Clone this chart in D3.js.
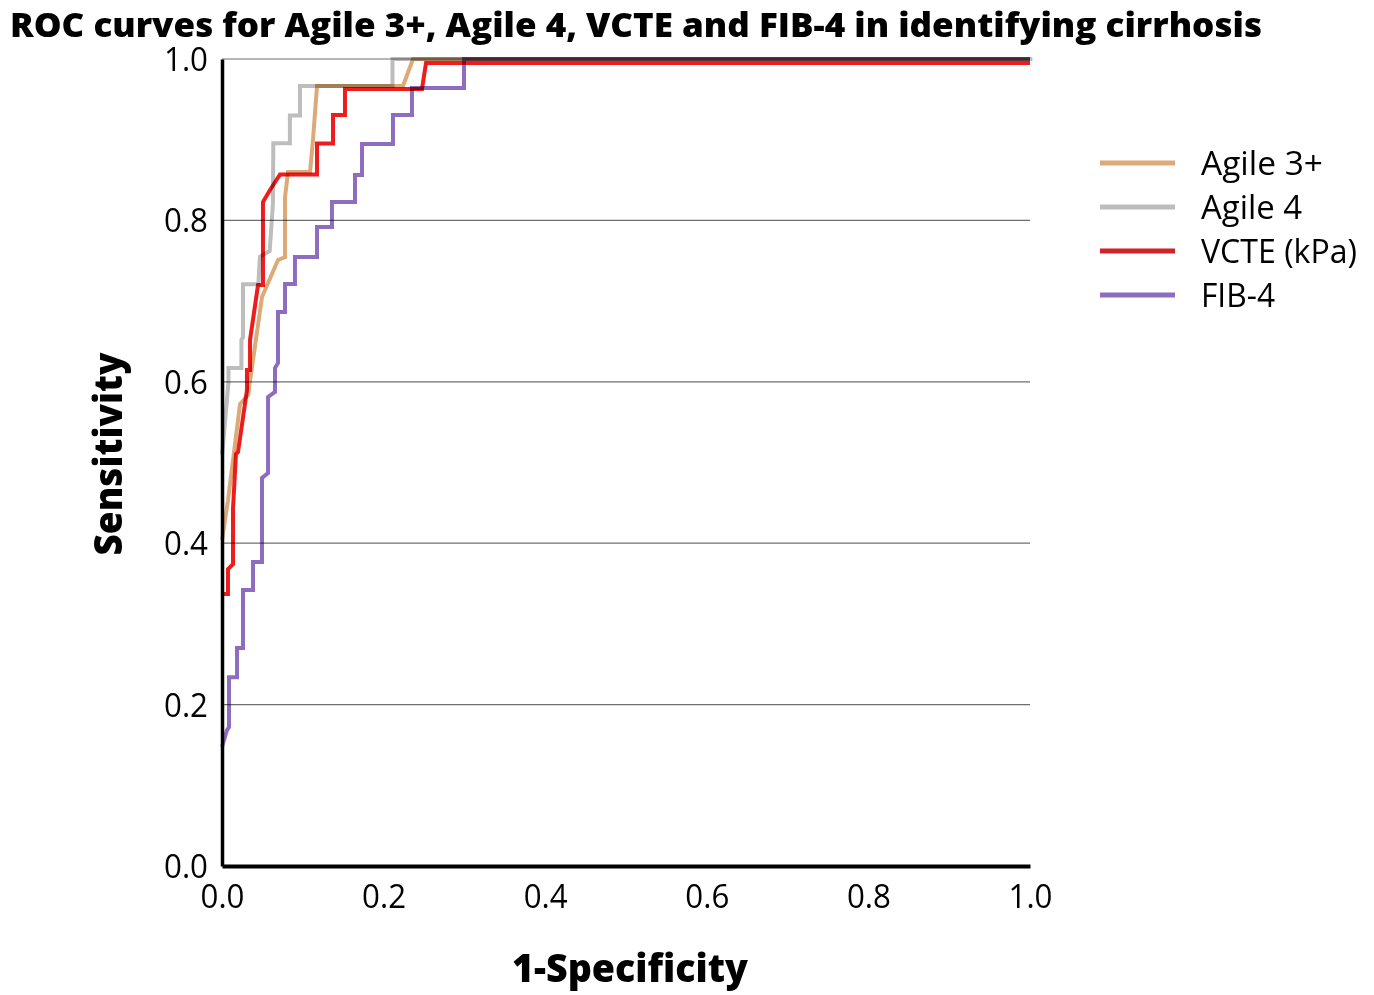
<!DOCTYPE html>
<html>
<head>
<meta charset="utf-8">
<script src="https://cdn.jsdelivr.net/npm/d3@7"></script>
<style>
  body { margin: 0; background: #fff; }
  svg { display: block; }
  text { font-family: "Open Sans", "Noto Sans", sans-serif; fill: #000; }
  .curve { fill: none; stroke-width: 4; mix-blend-mode: multiply; stroke-linejoin: miter; }
</style>
</head>
<body>
<div id="chart"></div>
<script>
// ROC points, [1-specificity, sensitivity]
var agile3 = [[0, 0.404], [0.0074, 0.453], [0.0223, 0.5725], [0.0322, 0.5836], [0.0495, 0.705], [0.0693, 0.751],
  [0.078, 0.7546], [0.078, 0.829], [0.0817, 0.860], [0.109, 0.860], [0.1126, 0.8996], [0.1176, 0.9665],
  [0.224, 0.9665], [0.2364, 1.0], [1, 1.0]];
var agile4 = [[0, 0.51], [0.002, 0.53], [0.008, 0.60], [0.008, 0.617], [0.024, 0.617], [0.024, 0.652],
  [0.026, 0.655], [0.026, 0.721], [0.045, 0.721], [0.047, 0.755], [0.059, 0.762], [0.063, 0.82],
  [0.0635, 0.8955], [0.084, 0.8955], [0.084, 0.93], [0.0965, 0.93], [0.0965, 0.9665], [0.211, 0.9665],
  [0.211, 1.0], [1.003, 1.0]];
var vcte = [[0, 0.3371], [0.0074, 0.3371], [0.0074, 0.368], [0.0136, 0.374], [0.0136, 0.4424], [0.0173, 0.5105],
  [0.0198, 0.513], [0.0309, 0.5898], [0.0309, 0.6146], [0.0347, 0.6146], [0.0347, 0.6518], [0.0446, 0.72],
  [0.0507, 0.72], [0.0507, 0.8228], [0.0594, 0.8377], [0.0718, 0.8569], [0.1176, 0.8569], [0.1176, 0.8953],
  [0.1374, 0.8953], [0.1374, 0.9306], [0.1522, 0.9306], [0.1522, 0.9628], [0.2475, 0.9628], [0.2525, 0.995],
  [1, 0.995]];
var fib4 = [[0, 0.1475], [0.0062, 0.1685], [0.0087, 0.1722], [0.0087, 0.234], [0.0186, 0.234], [0.0186, 0.27],
  [0.026, 0.27], [0.026, 0.342], [0.0384, 0.342], [0.0384, 0.3767], [0.0495, 0.3767], [0.0495, 0.4808],
  [0.057, 0.487], [0.057, 0.5812], [0.0656, 0.5874], [0.0656, 0.6171], [0.0693, 0.6233], [0.0693, 0.6865],
  [0.078, 0.6865], [0.078, 0.7212], [0.0903, 0.7212], [0.0903, 0.7546], [0.1176, 0.7546], [0.1176, 0.7918],
  [0.1361, 0.7918], [0.1361, 0.8228], [0.1646, 0.8228], [0.1646, 0.8563], [0.1733, 0.8563], [0.1733, 0.8947],
  [0.2116, 0.8947], [0.2116, 0.9306], [0.2351, 0.9306], [0.2351, 0.964], [0.2995, 0.964], [0.2995, 1.0], [1, 1.0]];

var seriesNames = ["Agile 3+", "Agile 4", "VCTE (kPa)", "FIB-4"];
var seriesColors = ["#dcaa78", "#bdbdbd", "#ee1c1c", "#8e6dc0"];
var legendColors = ["#dcaa78", "#bdbdbd", "#d42027", "#8e6dc0"];
var ticks = [0, 0.2, 0.4, 0.6, 0.8, 1.0];

var width = 1374, height = 995;
var margin = { top: 59, left: 222, right: 344, bottom: 129 };

var svg = d3.select("#chart").append("svg")
  .attr("width", width)
  .attr("height", height);

var x = d3.scaleLinear().domain([0, 1]).range([margin.left, width - margin.right]);
var y = d3.scaleLinear().domain([0, 1]).range([height - margin.bottom, margin.top]);

// title
svg.append("text")
  .attr("x", 10).attr("y", 37)
  .attr("font-size", 34).attr("font-weight", 800)
  .attr("textLength", 1252).attr("lengthAdjust", "spacingAndGlyphs")
  .text("ROC curves for Agile 3+, Agile 4, VCTE and FIB-4 in identifying cirrhosis");

// horizontal grid
svg.append("g").selectAll("line")
  .data(ticks.filter(function (d) { return d > 0; }))
  .enter().append("line")
  .attr("x1", x(0)).attr("x2", x(1))
  .attr("y1", function (d) { return y(d); })
  .attr("y2", function (d) { return y(d); })
  .attr("stroke", "#6e6e6e").attr("stroke-width", 1.2);

// axes
var yAxis = svg.append("g")
  .attr("transform", "translate(" + x(0) + ",0)")
  .call(d3.axisLeft(y).tickValues(ticks).tickFormat(d3.format(".1f")).tickSize(0).tickPadding(14));
yAxis.select(".domain").attr("stroke", "#000").attr("stroke-width", 3.5);
yAxis.selectAll("text")
  .attr("font-size", 32).attr("dy", "0.36em")
  .attr("textLength", 44).attr("lengthAdjust", "spacingAndGlyphs");

var xAxis = svg.append("g")
  .attr("transform", "translate(0," + y(0) + ")")
  .call(d3.axisBottom(x).tickValues(ticks).tickFormat(d3.format(".1f")).tickSize(0).tickPadding(19));
xAxis.select(".domain").attr("stroke", "#000").attr("stroke-width", 4);
xAxis.selectAll("text")
  .attr("font-size", 32).attr("dy", "0.71em")
  .attr("textLength", 44).attr("lengthAdjust", "spacingAndGlyphs");
svg.selectAll(".tick text").style("font-family", "'Open Sans', sans-serif");

// axis titles
svg.append("text")
  .attr("x", 630).attr("y", 982)
  .attr("text-anchor", "middle")
  .attr("font-size", 39).attr("font-weight", 800)
  .attr("textLength", 236).attr("lengthAdjust", "spacingAndGlyphs")
  .text("1-Specificity");

svg.append("text")
  .attr("transform", "translate(122,454) rotate(-90)")
  .attr("text-anchor", "middle")
  .attr("font-size", 39).attr("font-weight", 800)
  .attr("textLength", 203).attr("lengthAdjust", "spacingAndGlyphs")
  .text("Sensitivity");

// curves
var line = d3.line()
  .x(function (d) { return x(d[0]); })
  .y(function (d) { return y(d[1]); });

var curves = [agile4, agile3, vcte, fib4];
var curveColors = [seriesColors[1], seriesColors[0], seriesColors[2], seriesColors[3]];

svg.append("g").selectAll("path")
  .data(curves)
  .enter().append("path")
  .attr("class", "curve")
  .attr("d", line)
  .attr("stroke", function (d, i) { return curveColors[i]; });

// legend
var legend = svg.append("g").attr("transform", "translate(1100,163)");
var item = legend.selectAll("g")
  .data(seriesNames)
  .enter().append("g")
  .attr("transform", function (d, i) { return "translate(0," + (i * 44) + ")"; });

item.append("line")
  .attr("x1", 0).attr("x2", 75)
  .attr("stroke", function (d, i) { return legendColors[i]; })
  .attr("stroke-width", 5);

var legendWidths = [122, 101, 156, 74];
item.append("text")
  .attr("x", 101).attr("y", 12)
  .attr("font-size", 32)
  .attr("textLength", function (d, i) { return legendWidths[i]; })
  .attr("lengthAdjust", "spacingAndGlyphs")
  .text(function (d) { return d; });
</script>
</body>
</html>
